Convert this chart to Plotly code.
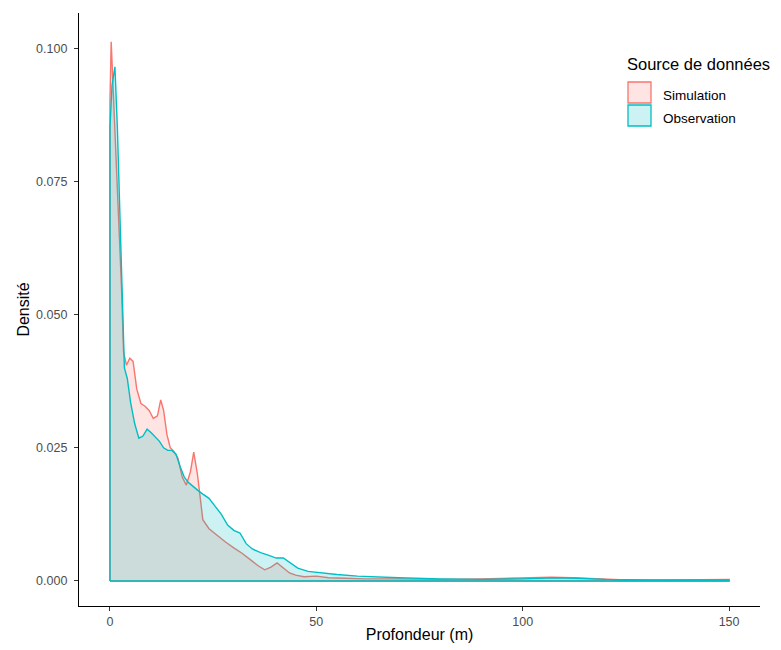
import plotly.graph_objects as go

# Simulation density (Profondeur in m, density)
sim_x = [0, 0.3, 0.7, 1.2, 2.0, 2.8, 3.3, 4.0, 4.8, 5.6, 6.5, 7.5, 8.5, 9.5, 10.5, 11.5,
         12.3, 13.0, 13.8, 14.6, 15.5, 16.5, 17.5, 18.5, 19.5, 20.3, 21.2, 22.5, 24.0,
         26.0, 28.0, 30.0, 32.0, 34.0, 36.0, 37.5, 39.0, 40.5, 42.0, 43.5, 45.0, 47.0,
         50.0, 53.0, 57.0, 62.0, 70.0, 80.0, 90.0, 100.0, 107.0, 112.0, 118.0, 125.0,
         135.0, 142.0, 150.0]
sim_y = [0.090, 0.1012, 0.094, 0.085, 0.072, 0.055, 0.043, 0.0405, 0.0418, 0.0412, 0.036,
         0.0333, 0.0328, 0.032, 0.0305, 0.031, 0.034, 0.032, 0.0275, 0.025, 0.0243, 0.023,
         0.0195, 0.018, 0.0205, 0.0242, 0.020, 0.0115, 0.0098, 0.0085, 0.0073, 0.0062,
         0.0052, 0.0040, 0.0028, 0.0021, 0.0026, 0.0034, 0.0025, 0.0015, 0.0011, 0.0008,
         0.0009, 0.0006, 0.0005, 0.0004, 0.0004, 0.0003, 0.0004, 0.0005, 0.0007, 0.0006,
         0.0004, 0.0002, 0.0002, 0.0003, 0.0003]

# Observation density
obs_x = [0, 0.5, 1.2, 1.8, 2.4, 3.0, 3.5, 4.2, 5.0, 6.0, 7.0, 8.0, 9.0, 10.0, 11.0, 12.0,
         13.0, 14.0, 15.0, 16.0, 17.0, 18.0, 19.0, 20.0, 21.3, 22.5, 24.0, 25.5, 27.0,
         28.5, 30.0, 31.5, 33.0, 34.5, 36.5, 38.5, 40.3, 42.0, 43.5, 45.5, 48.0, 51.0,
         55.0, 60.0, 65.0, 70.0, 80.0, 90.0, 100.0, 108.0, 113.0, 120.0, 130.0, 140.0, 150.0]
obs_y = [0.085, 0.093, 0.0965, 0.085, 0.070, 0.052, 0.040, 0.038, 0.0335, 0.0295, 0.0268,
         0.0272, 0.0285, 0.0278, 0.027, 0.0262, 0.0250, 0.0245, 0.0245, 0.0238, 0.0215,
         0.0195, 0.0185, 0.0178, 0.017, 0.0163, 0.0155, 0.0140, 0.0125, 0.0105, 0.0095,
         0.0090, 0.0070, 0.0060, 0.0053, 0.0048, 0.0043, 0.0043, 0.0035, 0.0024, 0.0018,
         0.0015, 0.0012, 0.0009, 0.0007, 0.0006, 0.0004, 0.0003, 0.0004, 0.0006, 0.0005,
         0.0003, 0.0002, 0.0002, 0.0002]

series = [
    ("Simulation", sim_x, sim_y, "#F8766D", "rgba(248,118,109,0.2)"),
    ("Observation", obs_x, obs_y, "#00BFC4", "rgba(0,191,196,0.2)"),
]

x_ticks = [0, 50, 100, 150]
y_ticks = [0.0, 0.025, 0.05, 0.075, 0.1]
y_tick_text = ["0.000", "0.025", "0.050", "0.075", "0.100"]

FONT = "Liberation Sans, Arial, sans-serif"

# page body has an 8px margin, so the figure is sized to fit inside the window
OFF = 8
W, H = 781 - OFF, 650 - OFF
# target plot area on screen: left 79, right 760, top 13, bottom 606
L, R, T, B = 79 - OFF, W - (760 - OFF), 13 - OFF, H - (606 - OFF)
PW, PH = W - L - R, H - T - B

def paper_x(sx):
    return (sx - OFF - L) / PW

def paper_y(sy):
    return (H - B - (sy - OFF)) / PH

fig = go.Figure()
for name, xs, ys, lc, fc in series:
    px = [xs[0]] + xs + [xs[-1], xs[0]]
    py = [0] + ys + [0, 0]
    fig.add_trace(go.Scatter(
        x=px, y=py, mode="lines", name=name, fill="toself", fillcolor=fc,
        line=dict(color=lc, width=1.4), hoverinfo="skip", showlegend=False,
    ))

# manual legend (ggplot-style key boxes)
shapes = []
annotations = [dict(
    x=paper_x(625), y=paper_y(64), xref="paper", yref="paper",
    text="Source de données", showarrow=False, xanchor="left", yanchor="middle",
    font=dict(size=16.5, color="black", family=FONT),
)]
key_tops = [81, 104]
for (name, xs, ys, lc, fc), top in zip(series, key_tops):
    shapes.append(dict(
        type="rect", xref="paper", yref="paper",
        x0=paper_x(628), x1=paper_x(651), y0=paper_y(top + 1), y1=paper_y(top + 22),
        line=dict(color=lc, width=1.3), fillcolor=fc,
    ))
    annotations.append(dict(
        x=paper_x(661), y=paper_y(top + 15), xref="paper", yref="paper",
        text=name, showarrow=False, xanchor="left", yanchor="middle",
        font=dict(size=13.5, color="black", family=FONT),
    ))

fig.update_layout(
    width=W, height=H,
    paper_bgcolor="white", plot_bgcolor="white",
    margin=dict(l=L, r=R, t=T, b=B, autoexpand=False),
    font=dict(family=FONT, color="black"),
    showlegend=False,
    shapes=shapes,
    annotations=annotations,
    xaxis=dict(
        range=[-7.5, 157.5], tickvals=x_ticks, showgrid=False, zeroline=False,
        showline=True, linecolor="black", linewidth=1.2, automargin=False,
        ticks="outside", ticklen=4, tickcolor="#333333",
        tickfont=dict(size=12.5, color="#4d4d4d"),
        title=dict(text="Profondeur (m)", font=dict(size=16, color="black"), standoff=0),
    ),
    yaxis=dict(
        range=[-0.0047, 0.1066], tickvals=y_ticks, ticktext=y_tick_text,
        showgrid=False, zeroline=False, automargin=False,
        showline=True, linecolor="black", linewidth=1.2,
        ticks="outside", ticklen=4, tickcolor="#333333", ticklabelstandoff=4,
        tickfont=dict(size=12.5, color="#4d4d4d"),
        title=dict(text="Densité", font=dict(size=16, color="black"), standoff=2),
    ),
)

fig.write_html("out.html")
